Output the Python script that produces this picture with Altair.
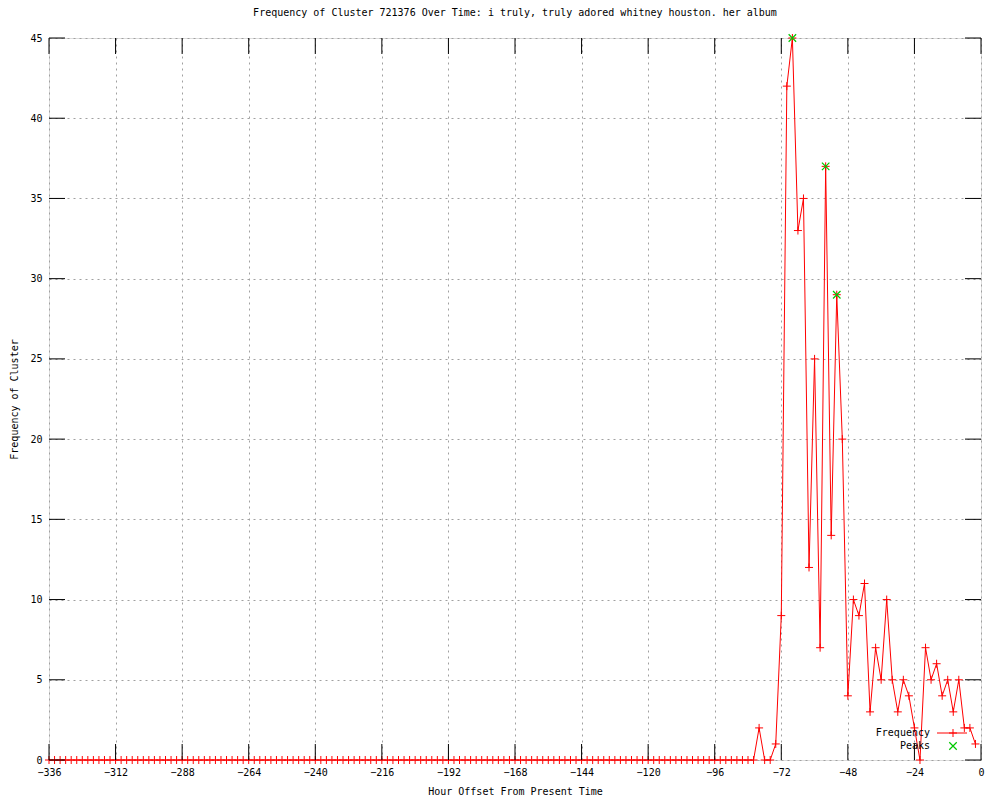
import altair as alt
import pandas as pd

# ---- data ----
hours = list(range(-336, 0, 2))
freq = [0] * 128 + [2, 0, 0, 1, 9, 42, 45, 33, 35, 12, 25, 7, 37, 14, 29, 20, 4, 10, 9, 11,
                    3, 7, 5, 10, 5, 3, 5, 4, 2, 0, 7, 5, 6, 4, 5, 3, 5, 2, 2, 1]
peak_hours = [-68, -56, -52]
peak_vals = [45, 37, 29]
x_ticks = [-336, -312, -288, -264, -240, -216, -192, -168, -144, -120, -96, -72, -48, -24, 0]
y_ticks = [0, 5, 10, 15, 20, 25, 30, 35, 40, 45]
legend_labels = ["Frequency", "Peaks"]
title_text = "Frequency of Cluster 721376 Over Time: i truly, truly adored whitney houston. her album"

W, H = 932, 722
FONT = "DejaVu Sans Mono"
RED = "#ff0000"
GREEN = "#00c800"
PLUS = "M-1,0H1M0,-1V1"
CROSS = "M-1,-1L1,1M-1,1L1,-1"

df = pd.DataFrame({"hour": hours, "freq": freq})
pk = pd.DataFrame({"hour": peak_hours, "freq": peak_vals})
xt = pd.DataFrame({"hour": x_ticks})
yt = pd.DataFrame({"freq": y_ticks})

xscale = alt.Scale(domain=[-336, 0], nice=False, zero=False)
yscale = alt.Scale(domain=[0, 45], nice=False, zero=False)

xaxis = alt.Axis(values=x_ticks, grid=True, gridDash=[2, 4], gridColor="#a0a0a0", gridWidth=1,
                 ticks=False, domain=False, labelFont=FONT, labelFontSize=10, labelColor="black",
                 labelPadding=7, labelFlush=False, labelOverlap=False,
                 title="Hour Offset From Present Time", titleFont=FONT, titleFontSize=10,
                 titleFontWeight="normal", titleColor="black", titlePadding=9)
yaxis = alt.Axis(values=y_ticks, grid=True, gridDash=[2, 4], gridColor="#a0a0a0", gridWidth=1,
                 ticks=False, domain=False, labelFont=FONT, labelFontSize=10, labelColor="black",
                 labelPadding=7, labelFlush=False, labelOverlap=False,
                 title="Frequency of Cluster", titleFont=FONT, titleFontSize=10,
                 titleFontWeight="normal", titleColor="black", titlePadding=10)

X = alt.X("hour:Q", scale=xscale, axis=xaxis)
Y = alt.Y("freq:Q", scale=yscale, axis=yaxis)

base = alt.Chart(df).encode(x=X, y=Y)
line = base.mark_line(color=RED, strokeWidth=1)
pts = base.mark_point(shape=PLUS, size=64, color=RED, strokeWidth=1, filled=False, opacity=1)
peaks = alt.Chart(pk).mark_point(shape=CROSS, size=56, color=GREEN, strokeWidth=1.2,
                                 filled=False, opacity=1).encode(x=X, y=Y)

xb = alt.Chart(xt).mark_rule(color="black", strokeWidth=1).encode(
    x=X, y=alt.value(H), y2=alt.value(H - 16))
xtop = alt.Chart(xt).mark_rule(color="black", strokeWidth=1).encode(
    x=X, y=alt.value(0), y2=alt.value(16))
yl = alt.Chart(yt).mark_rule(color="black", strokeWidth=1).encode(
    y=Y, x=alt.value(0), x2=alt.value(16))
yr = alt.Chart(yt).mark_rule(color="black", strokeWidth=1).encode(
    y=Y, x=alt.value(W - 16), x2=alt.value(W))

one = pd.DataFrame({"k": [0]})
leg_txt1 = alt.Chart(pd.DataFrame({"label": [legend_labels[0]]})).mark_text(
    font=FONT, fontSize=10, align="right", baseline="middle", color="black").encode(
    text="label:N", x=alt.value(881), y=alt.value(695))
leg_txt2 = alt.Chart(pd.DataFrame({"label": [legend_labels[1]]})).mark_text(
    font=FONT, fontSize=10, align="right", baseline="middle", color="black").encode(
    text="label:N", x=alt.value(881), y=alt.value(708))
leg_line = alt.Chart(one).mark_rule(color=RED, strokeWidth=1).encode(
    x=alt.value(888), x2=alt.value(918), y=alt.value(695))
leg_plus = alt.Chart(one).mark_point(shape=PLUS, size=64, color=RED, strokeWidth=1,
                                     filled=False, opacity=1).encode(
    x=alt.value(904), y=alt.value(695))
leg_cross = alt.Chart(one).mark_point(shape=CROSS, size=56, color=GREEN, strokeWidth=1.2,
                                      filled=False, opacity=1).encode(
    x=alt.value(904), y=alt.value(708))

chart = alt.layer(
    line, pts, peaks, xb, xtop, yl, yr, leg_txt1, leg_txt2, leg_line, leg_plus, leg_cross
).properties(
    width=W, height=H,
    title=alt.TitleParams(text=title_text, font=FONT, fontSize=10, fontWeight="normal",
                          color="black", anchor="middle", offset=14),
    padding={"left": 41, "top": 30, "right": 10, "bottom": 40},
    autosize=alt.AutoSizeParams(type="none"),
).configure_view(stroke="black", strokeWidth=1).configure(background="white")

chart.save("out.html", embed_options={"renderer": "svg", "actions": False})
